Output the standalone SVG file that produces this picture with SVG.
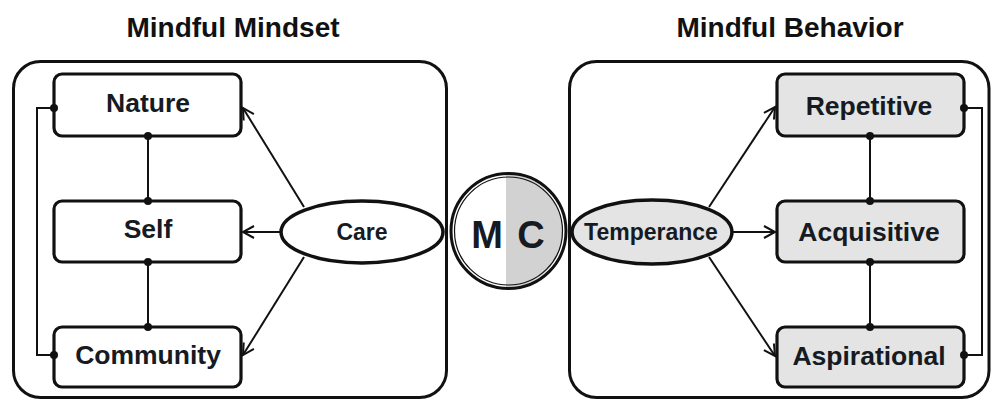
<svg xmlns="http://www.w3.org/2000/svg" width="992" height="401" viewBox="0 0 992 401">
<defs>
<style>
.container{fill:#fff;stroke:#111;stroke-width:3}
.box{fill:#fff;stroke:#111;stroke-width:3.2}
.gbox{fill:#e3e4e3;stroke:#111;stroke-width:3.2}
.lbl{font-family:"Liberation Sans",Arial,sans-serif;font-weight:bold;font-size:26.5px;fill:#161a22;text-anchor:middle}
.elbl{font-family:"Liberation Sans",Arial,sans-serif;font-weight:bold;font-size:23px;fill:#161a22;text-anchor:middle}
.head{font-family:"Liberation Sans",Arial,sans-serif;font-weight:bold;font-size:28px;fill:#111;text-anchor:middle}
.link{fill:none;stroke:#111;stroke-width:2}
.arrow{fill:none;stroke:#111;stroke-width:2;marker-end:url(#chev)}
.dot{fill:#111}
</style>
<marker id="chev" markerUnits="userSpaceOnUse" markerWidth="15" markerHeight="15" refX="12" refY="7" orient="auto">
<path d="M1,1 L12,7 L1,13" fill="none" stroke="#111" stroke-width="2"/>
</marker>
</defs>

<text class="head" x="233" y="37">Mindful Mindset</text>
<text class="head" x="790" y="37">Mindful Behavior</text>

<g id="mindset-container"><rect class="container" x="13.5" y="61.5" width="433" height="336" rx="27"/></g>
<g id="behavior-container"><rect class="container" x="569.5" y="61.5" width="419.5" height="336" rx="27"/></g>

<g id="nature"><rect class="box" x="54" y="74" width="187" height="62" rx="8"/><text class="lbl" x="148" y="112">Nature</text></g>
<g id="self"><rect class="box" x="54" y="201" width="187" height="61" rx="8"/><text class="lbl" x="148" y="238">Self</text></g>
<g id="community"><rect class="box" x="54" y="327" width="187" height="60" rx="8"/><text class="lbl" x="148" y="364">Community</text></g>

<g id="repetitive"><rect class="gbox" x="777" y="74" width="187" height="62" rx="8"/><text class="lbl" x="869" y="115">Repetitive</text></g>
<g id="acquisitive"><rect class="gbox" x="777" y="201" width="187" height="61" rx="8"/><text class="lbl" x="869" y="241">Acquisitive</text></g>
<g id="aspirational"><rect class="gbox" x="777" y="327" width="187" height="60" rx="8"/><text class="lbl" x="869" y="365">Aspirational</text></g>

<g id="care"><ellipse cx="362" cy="232" rx="81" ry="31" fill="#fff" stroke="#111" stroke-width="3.5"/><text class="elbl" x="362" y="240">Care</text></g>
<g id="temperance"><ellipse cx="652" cy="232" rx="80" ry="32" fill="#e3e4e3" stroke="#111" stroke-width="3.5"/><text class="elbl" x="651" y="240">Temperance</text></g>

<g id="mc">
<circle cx="508.5" cy="231" r="57" fill="#fff"/>
<path d="M506,174 A57,57 0 0 1 506,288 Z" fill="#d2d2d2"/>
<circle cx="508.5" cy="231" r="57.5" fill="none" stroke="#111" stroke-width="3"/>
<circle cx="508.5" cy="231" r="54" fill="none" stroke="#111" stroke-width="1.2"/>
<text x="487" y="248" font-family="'Liberation Sans',Arial,sans-serif" font-weight="bold" font-size="38" fill="#161a22" text-anchor="middle">M</text>
<text x="531" y="248" font-family="'Liberation Sans',Arial,sans-serif" font-weight="bold" font-size="38" fill="#161a22" text-anchor="middle">C</text>
</g>

<g id="connectors">
<polyline class="link" points="53,108 37,108 37,355 53,355"/>
<line class="link" x1="148" y1="137" x2="148" y2="200"/>
<line class="link" x1="148" y1="263" x2="148" y2="326"/>
<polyline class="link" points="964,108 982,108 982,355 964,355"/>
<line class="link" x1="870" y1="137" x2="870" y2="200"/>
<line class="link" x1="870" y1="263" x2="870" y2="326"/>
<line class="arrow" x1="304" y1="207" x2="243" y2="108"/>
<line class="arrow" x1="280" y1="232" x2="243" y2="232"/>
<line class="arrow" x1="304" y1="257" x2="243" y2="355"/>
<line class="arrow" x1="709" y1="207" x2="775" y2="107"/>
<line class="arrow" x1="732" y1="232" x2="775" y2="232"/>
<line class="arrow" x1="709" y1="257" x2="775" y2="356"/>
<circle class="dot" cx="54" cy="108" r="4"/>
<circle class="dot" cx="54" cy="355" r="4"/>
<circle class="dot" cx="148" cy="136" r="4"/>
<circle class="dot" cx="148" cy="201" r="4"/>
<circle class="dot" cx="148" cy="262" r="4"/>
<circle class="dot" cx="148" cy="327" r="4"/>
<circle class="dot" cx="964" cy="108" r="4"/>
<circle class="dot" cx="964" cy="355" r="4"/>
<circle class="dot" cx="870" cy="136" r="4"/>
<circle class="dot" cx="870" cy="201" r="4"/>
<circle class="dot" cx="870" cy="262" r="4"/>
<circle class="dot" cx="870" cy="327" r="4"/>
</g>
</svg>
